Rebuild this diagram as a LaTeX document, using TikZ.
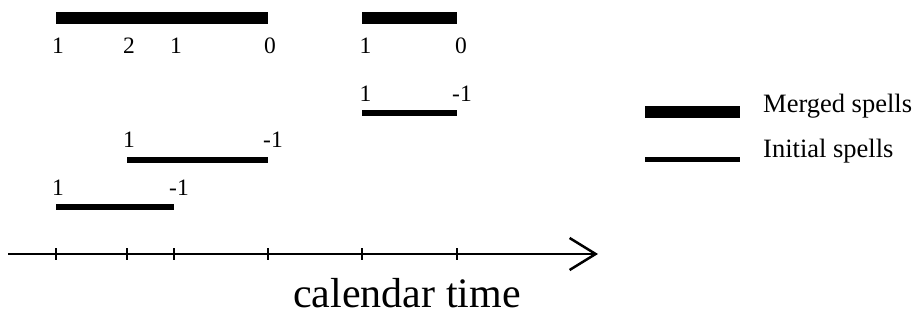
\documentclass[tikz,border=0pt]{standalone}
\usepackage{fontspec}
\setmainfont{Liberation Serif}
\usetikzlibrary{arrows.meta}

\begin{document}
\begin{tikzpicture}[x=1pt, y=1pt, line cap=butt,
		merged/.style={line width=12pt},
		initial/.style={line width=5.5pt},
		num/.style={font=\fontsize{23.5}{25}\selectfont, anchor=base, inner sep=0pt},
		legtext/.style={font=\fontsize{26.5}{28}\selectfont, anchor=base west, inner sep=0pt}]
	% Window
	\useasboundingbox (0,0) rectangle (924,320);
	
	% Time points on the calendar axis
	\def\ta{56} \def\tb{127} \def\tc{174}
	\def\td{268} \def\te{362} \def\tf{457}
	
	% Merged spells
	\draw[merged] (\ta,301.5) -- (\td,301.5);
	\draw[merged] (\te,301.5) -- (\tf,301.5);
	\node[num] (m1) at (58,266) {1};
	\node[num] (m2) at (129,266) {2};
	\node[num] (m3) at (176,266) {1};
	\node[num] (m4) at (270,266) {0};
	\node[num] (m5) at (365.5,266) {1};
	\node[num] (m6) at (461,266) {0};
	
	% Initial spells
	\draw[initial] (\te,207) -- (\tf,207);
	\node[num] (a1) at (365.5,218) {1};
	\node[num] (a2) at (462,218) {-1};
	
	\draw[initial] (\tb,160) -- (\td,160);
	\node[num] (b1) at (129,172) {1};
	\node[num] (b2) at (273,172) {-1};
	
	\draw[initial] (\ta,113) -- (\tc,113);
	\node[num] (c1) at (58,124) {1};
	\node[num] (c2) at (179,124) {-1};
	
	% Calendar axis
	\draw[line width=2.5pt, -{Straight Barb[length=26pt, width=32pt]}] (8,66) -- (598,66);
	\foreach \t in {\ta,\tb,\tc,\td,\te,\tf}
		\draw[line width=2.5pt] (\t,60) -- (\t,72);
	\node[font=\fontsize{42}{46}\selectfont, anchor=base, inner sep=0pt] (caltime) at (407,12) {calendar time};
	
	% Legend
	\draw[merged] (645,207.5) -- (740,207.5);
	\node[legtext] (lmerged) at (763,207) {Merged spells};
	\draw[initial] (645,160.5) -- (740,160.5);
	\node[legtext] (linitial) at (763,162) {Initial spells};
\end{tikzpicture}
\end{document}
